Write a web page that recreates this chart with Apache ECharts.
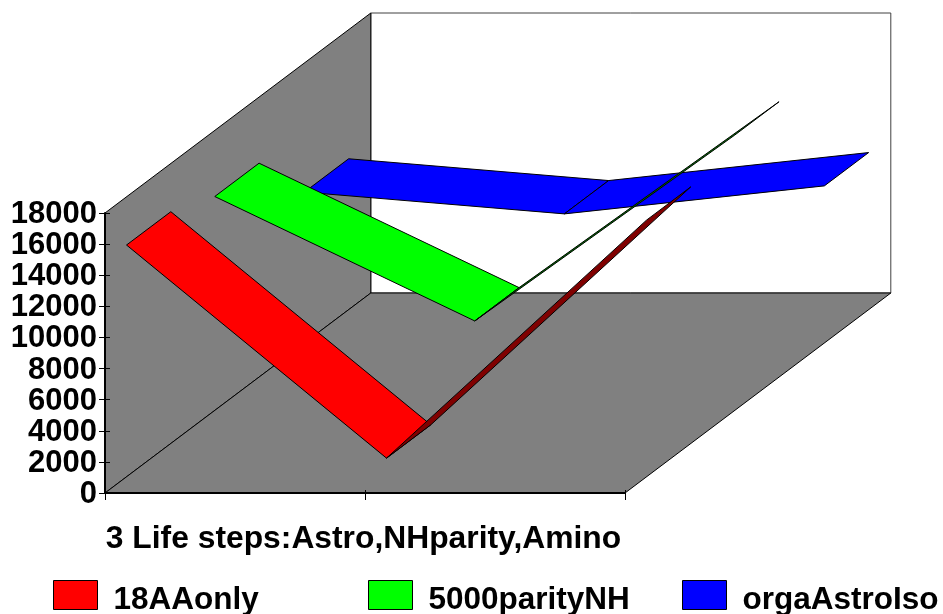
<!DOCTYPE html>
<html><head><meta charset="utf-8">
<style>html,body{margin:0;padding:0;background:#fff}#c{width:943px;height:614px}</style>
<script src="https://cdn.jsdelivr.net/npm/echarts@6/dist/echarts.min.js"></script>
</head><body><div id="c"></div>
<script>
const categories = ['Astro', 'NHparity', 'Amino'];
const seriesNames = ['18AAonly', '5000parityNH', 'orgaAstroIso'];
const aaOnly = [14900, 1200, 16500];
const parityNH = [13750, 5750, 17700];
const astroIso = [9700, 8300, 10100];
const yMax = 18000;
const yStep = 2000;
const axisName = '3 Life steps:Astro,NHparity,Amino';

const FONT = '"Liberation Sans", Arial, sans-serif';
const DEPTH = [265.8, -200];
const FRONT = [0.081, 0.413, 0.75];
const RIBBON = 1 / 6;
const colors = ['#ff0000', '#00ff00', '#0000ff'];
const shades = ['#800000', '#008000', '#000080'];
const values = [aaOnly, parityNH, astroIso];
const last = categories.length - 1;
const off = (p, f) => [p[0] + DEPTH[0] * f, p[1] + DEPTH[1] * f];

function wallItem(params, api) {
  const o = api.coord([0, 0]), r = api.coord([last, 0]), t = api.coord([0, yMax]);
  const poly = (pts, fill, stroke) => ({
    type: 'polygon', shape: { points: pts },
    style: { fill, stroke: stroke || '#000', lineWidth: 1 }
  });
  return { type: 'group', children: [
    poly([off(o, 1), off(r, 1), off([r[0], t[1]], 1), off(t, 1)], '#ffffff', '#404040'),
    poly([o, off(o, 1), off(t, 1), t], '#808080'),
    poly([o, r, off(r, 1), off(o, 1)], '#808080')
  ]};
}

function ribbonItem(idx) {
  return function (params, api) {
    const i = params.dataIndex;
    if (i >= last) return null;
    const vals = values[idx];
    const a = api.coord([i, vals[i]]), b = api.coord([i + 1, vals[i + 1]]);
    const f0 = FRONT[idx], f1 = f0 + RIBBON;
    const pts = [off(a, f0), off(b, f0), off(b, f1), off(a, f1)];
    const dx = b[0] - a[0], dy = b[1] - a[1];
    // A face turned away from the viewer (or nearly edge-on) shows its dark underside.
    const cross = dx * DEPTH[1] - dy * DEPTH[0];
    const under = cross > -0.06 * Math.abs(dx * DEPTH[1]);
    return {
      type: 'polygon', shape: { points: pts },
      style: { fill: under ? shades[idx] : colors[idx], stroke: '#000', lineWidth: 1 }
    };
  };
}

const ribbon = idx => ({
  type: 'custom', name: seriesNames[idx], clip: false, z: 2 + (2 - idx), silent: true,
  coordinateSystem: 'cartesian2d', xAxisIndex: 0, yAxisIndex: 0,
  itemStyle: { color: colors[idx] },
  encode: { x: 0, y: 1 },
  renderItem: ribbonItem(idx),
  data: values[idx].map((v, i) => [i, v])
});

const legendLefts = [53, 368, 682];
const chart = echarts.init(document.getElementById('c'), null, { renderer: 'canvas' });
chart.setOption({
  animation: false,
  backgroundColor: '#fff',
  textStyle: { fontFamily: FONT },
  grid: { left: 105, top: 213, width: 520, height: 280, containLabel: false },
  legend: seriesNames.map((n, i) => ({
    data: [n], left: legendLefts[i], top: 580, padding: 0,
    icon: 'rect', itemWidth: 44, itemHeight: 29, selectedMode: false,
    itemStyle: { borderColor: '#000', borderWidth: 1 },
    formatter: name => '{t|' + name + '}',
    textStyle: {
      color: '#000',
      rich: { t: { fontFamily: FONT, fontWeight: 'bold', fontSize: 31.5, color: '#000', padding: [10, 0, 0, 11] } }
    }
  })),
  xAxis: [{
    type: 'category', data: categories, boundaryGap: false, z: 6,
    name: axisName, nameLocation: 'middle', nameGap: 30,
    nameTextStyle: { fontFamily: FONT, fontWeight: 'bold', fontSize: 31.8, color: '#000', align: 'center', verticalAlign: 'top', padding: [0, 3, 0, 0] },
    axisLine: { lineStyle: { color: '#000', width: 2 } },
    axisTick: { show: true, alignWithLabel: true, length: 7, lineStyle: { color: '#000', width: 1 } },
    axisLabel: { show: false }, splitLine: { show: false }
  }, {
    type: 'category', data: categories, boundaryGap: false, position: 'bottom', z: 6,
    axisLine: { show: false },
    axisTick: { show: true, inside: true, length: 3, lineStyle: { color: '#000', width: 1 } },
    axisLabel: { show: false }, splitLine: { show: false }
  }],
  yAxis: [{
    type: 'value', min: 0, max: yMax, interval: yStep, z: 6,
    axisLine: { show: true, lineStyle: { color: '#000', width: 2 } },
    axisTick: { show: true, length: 6, lineStyle: { color: '#000', width: 1 } },
    axisLabel: {
      margin: 8, formatter: v => '{t|' + v + '}',
      rich: { t: { fontFamily: FONT, fontWeight: 'bold', fontSize: 31, color: '#000', padding: [3, 0, 0, 0] } }
    },
    splitLine: { show: false }
  }, {
    type: 'value', min: 0, max: yMax, interval: yStep, position: 'left', z: 6,
    axisLine: { show: false },
    axisTick: { show: true, inside: true, length: 5, lineStyle: { color: '#000', width: 1 } },
    axisLabel: { show: false }, splitLine: { show: false }
  }],
  series: [{
    type: 'custom', name: 'walls', clip: false, z: 1, silent: true,
    coordinateSystem: 'cartesian2d', xAxisIndex: 0, yAxisIndex: 0,
    renderItem: wallItem, data: [[0, 0]], encode: { x: 0, y: 1 }
  }, ribbon(2), ribbon(1), ribbon(0)]
});
</script></body></html>
